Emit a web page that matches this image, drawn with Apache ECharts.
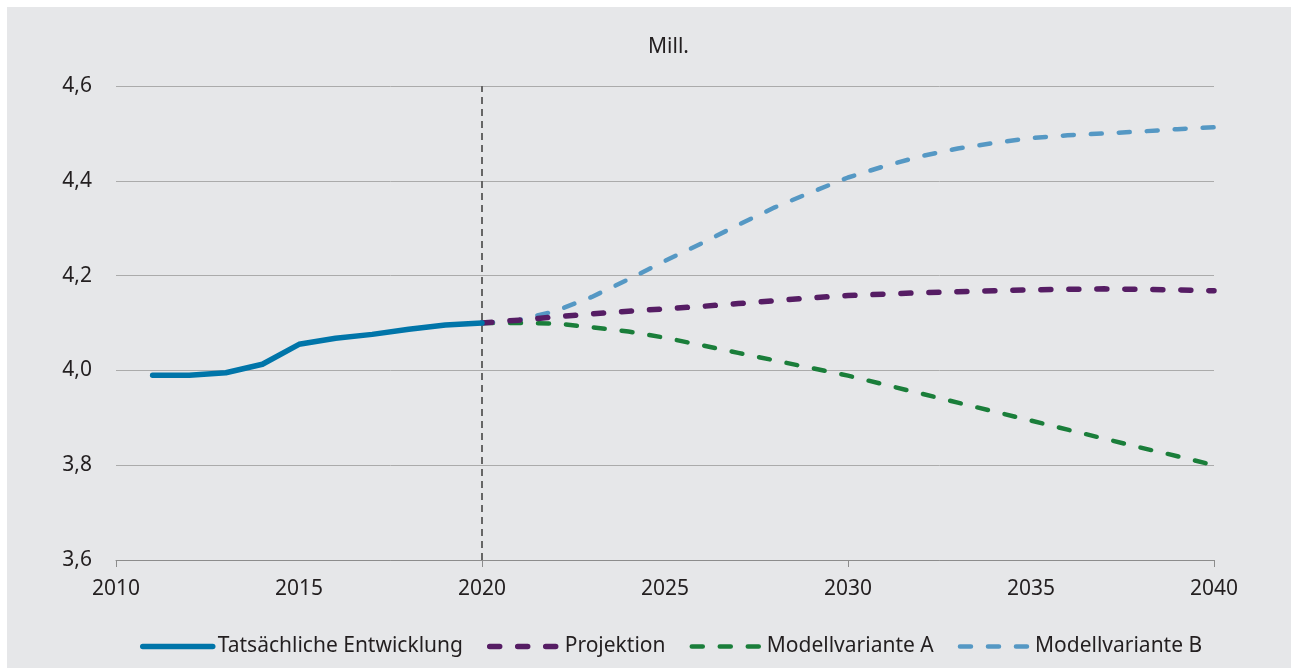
<!DOCTYPE html>
<html>
<head>
<meta charset="utf-8">
<script src="https://cdn.jsdelivr.net/npm/echarts@6/dist/echarts.min.js"></script>
<style>
  html, body { margin: 0; padding: 0; background: #ffffff; }
  #chart { position: absolute; left: 7px; top: 7px; width: 1284px; height: 661px; }
</style>
</head>
<body>
<div id="chart"></div>
<script>
// Categories (years) on the x axis
const years = ['2010','2011','2012','2013','2014','2015','2016','2017','2018','2019','2020',
               '2021','2022','2023','2024','2025','2026','2027','2028','2029','2030',
               '2031','2032','2033','2034','2035','2036','2037','2038','2039','2040'];

// Actual development 2011–2020
const actualYears  = ['2011','2012','2013','2014','2015','2016','2017','2018','2019','2020'];
const actualValues = [3.990, 3.990, 3.995, 4.013, 4.055, 4.068, 4.076, 4.087, 4.096, 4.100];

// Projections 2020–2040
const projYears = ['2020','2021','2022','2023','2024','2025','2026','2027','2028','2029','2030',
                   '2031','2032','2033','2034','2035','2036','2037','2038','2039','2040'];
const projektion = [4.100, 4.106, 4.113, 4.119, 4.125, 4.130, 4.135, 4.141, 4.147, 4.153, 4.158,
                    4.161, 4.164, 4.166, 4.168, 4.170, 4.171, 4.172, 4.171, 4.170, 4.168];
const varianteA  = [4.100, 4.100, 4.099, 4.091, 4.082, 4.069, 4.053, 4.037, 4.021, 4.005, 3.989,
                    3.970, 3.951, 3.932, 3.913, 3.894, 3.875, 3.856, 3.837, 3.819, 3.800];
const varianteB  = [4.100, 4.106, 4.125, 4.155, 4.192, 4.231, 4.268, 4.307, 4.344, 4.376, 4.407,
                    4.431, 4.452, 4.468, 4.480, 4.490, 4.496, 4.500, 4.504, 4.509, 4.513];

const seriesNames = ['Tatsächliche Entwicklung', 'Projektion', 'Modellvariante A', 'Modellvariante B'];
const unitLabel = 'Mill.';

const pair = (xs, ys) => xs.map((x, i) => [x, ys[i]]);
const FONT = '"Noto Sans", "Open Sans", sans-serif';
const TXT = '#231f20';

const chart = echarts.init(document.getElementById('chart'), null, { renderer: 'canvas' });
chart.setOption({
  backgroundColor: '#e6e7e9',
  animation: false,
  textStyle: { fontFamily: FONT, color: TXT },
  graphic: [{
    type: 'text', left: 641, top: 30,
    style: { text: unitLabel, fontFamily: FONT, fontSize: 21, fill: TXT }
  }],
  grid: { left: 109, right: 77, top: 79, bottom: 108, containLabel: false },
  legend: {
    left: 128, top: 624,
    itemWidth: 70, itemHeight: 14, itemGap: 24,
    textStyle: { fontFamily: FONT, fontSize: 21, color: TXT },
    lineStyle: { width: 'inherit' },
    itemStyle: { color: 'transparent', borderColor: 'transparent', borderWidth: 0, opacity: 0 },
    data: seriesNames
  },
  xAxis: {
    type: 'category', data: years, boundaryGap: false,
    axisLine: { show: true, lineStyle: { color: '#8c8c8c', width: 1 } },
    axisTick: { show: true, interval: 9, length: 7, lineStyle: { color: '#8c8c8c' } },
    axisLabel: { interval: 4, fontFamily: FONT, fontSize: 21, color: TXT, margin: 19 },
    splitLine: { show: false }
  },
  yAxis: {
    type: 'value', min: 3.6, max: 4.6, interval: 0.2,
    axisLine: { show: false }, axisTick: { show: false },
    axisLabel: {
      fontFamily: FONT, fontSize: 21, color: TXT, margin: 24,
      formatter: v => v.toFixed(1).replace('.', ',')
    },
    splitLine: { lineStyle: { color: '#ababab', width: 1 } }
  },
  series: [
    {
      name: seriesNames[0], type: 'line', symbol: 'none', z: 5,
      data: pair(actualYears, actualValues),
      lineStyle: { color: '#0075a9', width: 5.5, cap: 'round', join: 'round' },
      itemStyle: { color: '#0075a9' },
      markLine: {
        silent: true, symbol: 'none', label: { show: false },
        lineStyle: { color: '#666666', width: 2, type: [7, 5] },
        data: [{ xAxis: '2020' }]
      }
    },
    {
      name: seriesNames[1], type: 'line', symbol: 'none', z: 4,
      data: pair(projYears, projektion),
      lineStyle: { color: '#561d64', width: 5.5, type: [10, 18], cap: 'round', join: 'round' },
      itemStyle: { color: '#561d64' }
    },
    {
      name: seriesNames[2], type: 'line', symbol: 'none', z: 3,
      data: pair(projYears, varianteA),
      lineStyle: { color: '#1a7e3a', width: 4.5, type: [11, 17], cap: 'round', join: 'round' },
      itemStyle: { color: '#1a7e3a' }
    },
    {
      name: seriesNames[3], type: 'line', symbol: 'none', z: 3,
      data: pair(projYears, varianteB),
      lineStyle: { color: '#5598c4', width: 4.5, type: [11, 17], cap: 'round', join: 'round' },
      itemStyle: { color: '#5598c4' }
    }
  ]
});
</script>
</body>
</html>
